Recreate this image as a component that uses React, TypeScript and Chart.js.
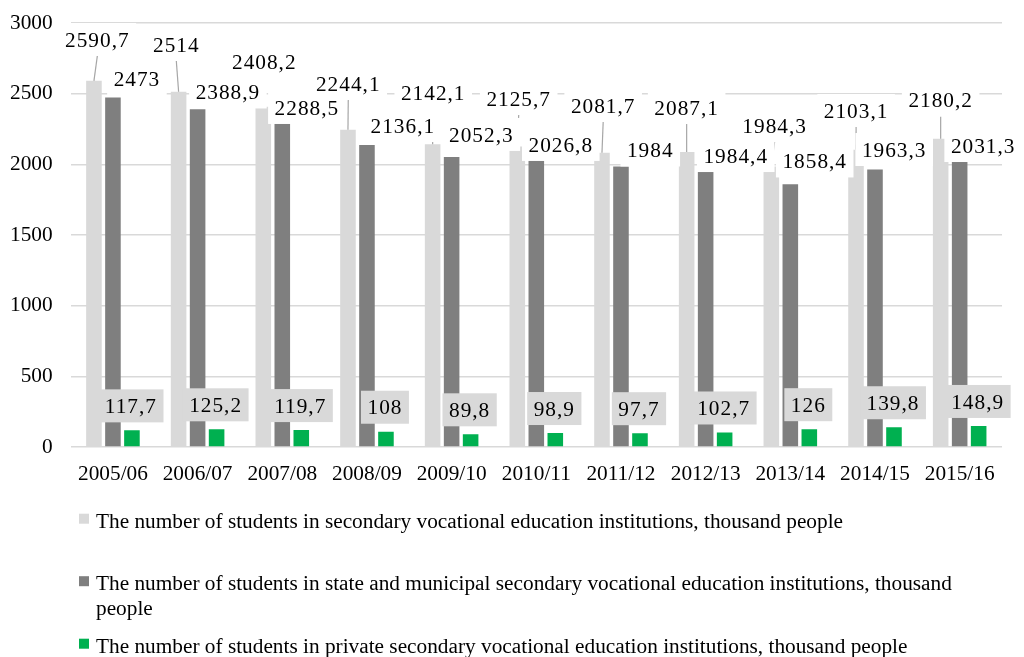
import React, { useEffect, useRef } from 'react';
import { Chart, registerables } from 'chart.js';

Chart.register(...registerables);

// Academic years on the category axis
const categories = [
  '2005/06', '2006/07', '2007/08', '2008/09', '2009/10', '2010/11',
  '2011/12', '2012/13', '2013/14', '2014/15', '2015/16',
];

// Students, thousand people
const totalStudents = [2590.7, 2514, 2408.2, 2244.1, 2142.1, 2125.7, 2081.7, 2087.1, 1984.3, 2103.1, 2180.2];
const stateStudents = [2473, 2388.9, 2288.5, 2136.1, 2052.3, 2026.8, 1984, 1984.4, 1858.4, 1963.3, 2031.3];
const privateStudents = [117.7, 125.2, 119.7, 108, 89.8, 98.9, 97.7, 102.7, 126, 139.8, 148.9];

const seriesNames = [
  'The number of students in secondary vocational education institutions, thousand people',
  'The number of students in state and municipal secondary vocational education institutions, thousand people',
  'The number of students in private secondary vocational education institutions, thousand people',
];

const yTickValues = [0, 500, 1000, 1500, 2000, 2500, 3000];

// Hand-placed data label offsets (px) from the top centre of each bar
const totalLabelOffsets: [number, number][] = [
  [3.4, -41.4], [-2.3, -47.2], [1, -45.1], [0.3, -46.3], [0.6, -51.3], [1.4, -48.1],
  [1.2, -47.3], [0, -44.5], [3.3, -41.1], [0.1, -39.3], [0, -38.9],
];
const totalLeaderLines = [true, true, false, true, true, true, true, true, true, true, true];
const stateLabelOffsets: [number, number][] = [
  [24, -18.5], [30.3, -17.4], [24.6, -16.1], [35.9, -19.6], [29.7, -22.5], [24.5, -16.1],
  [29.3, -16.6], [30.1, -11], [24.4, -23.4], [19.2, -20], [23.5, -14.4],
];
const privateLabelOffset: [number, number] = [-1, -24.5];

const COLORS = ['#d9d9d9', '#7f7f7f', '#00b050'];
const FONT_FAMILY = '"Liberation Serif", "Times New Roman", serif';
const FONT_SIZE = 21.3;

const fmt = (v: number) => String(v).replace('.', ',');

const dataLabelPlugin = {
  id: 'dataLabels',
  afterDatasetsDraw(chart: any) {
    const ctx: CanvasRenderingContext2D = chart.ctx;
    const series = [
      { values: totalStudents, meta: chart.getDatasetMeta(0), offsets: totalLabelOffsets, fill: '#ffffff' },
      { values: stateStudents, meta: chart.getDatasetMeta(1), offsets: stateLabelOffsets, fill: '#ffffff' },
      { values: privateStudents, meta: chart.getDatasetMeta(2), offsets: null, fill: '#d9d9d9' },
    ];
    const boxH = 33;
    const padX = 6.5;
    ctx.save();
    // leader lines of the first series
    ctx.strokeStyle = '#a6a6a6';
    ctx.lineWidth = 1.2;
    series[0].meta.data.forEach((bar: any, i: number) => {
      if (!totalLeaderLines[i]) return;
      const [dx, dy] = totalLabelOffsets[i];
      const lx = bar.x + dx;
      const ly = bar.y + dy;
      ctx.beginPath();
      ctx.moveTo(lx, ly + boxH / 2);
      ctx.lineTo(bar.x, bar.y);
      ctx.stroke();
    });
    ctx.font = `${FONT_SIZE}px ${FONT_FAMILY}`;
    (ctx as any).letterSpacing = '1px';
    ctx.textAlign = 'center';
    ctx.textBaseline = 'alphabetic';
    series.forEach((s) => {
      s.meta.data.forEach((bar: any, i: number) => {
        const [dx, dy] = s.offsets ? s.offsets[i] : privateLabelOffset;
        const lx = bar.x + dx;
        const ly = bar.y + dy;
        const text = fmt(s.values[i]);
        const w = ctx.measureText(text).width;
        ctx.fillStyle = s.fill;
        ctx.fillRect(lx - w / 2 - padX, ly - boxH / 2, w + padX * 2, boxH);
        ctx.fillStyle = '#000';
        ctx.fillText(text, lx, ly + FONT_SIZE * 0.338);
      });
    });
    ctx.restore();
  },
};

const legendPlugin = {
  id: 'stackedLegend',
  afterDraw(chart: any) {
    const ctx: CanvasRenderingContext2D = chart.ctx;
    const textX = 96;
    const maxWidth = 870;
    const firstBaseline = 527.7;
    const rowStep = 62.5;
    const lineStep = 25;
    ctx.save();
    ctx.font = `${FONT_SIZE}px ${FONT_FAMILY}`;
    ctx.textAlign = 'left';
    ctx.textBaseline = 'alphabetic';
    seriesNames.forEach((name, idx) => {
      const base = firstBaseline + idx * rowStep;
      ctx.fillStyle = COLORS[idx];
      ctx.fillRect(79, base - 14, 10, 10);
      // wrap words into lines
      const words = name.split(' ');
      const lines: string[] = [];
      let cur = '';
      words.forEach((w) => {
        const test = cur ? cur + ' ' + w : w;
        if (ctx.measureText(test).width > maxWidth && cur) {
          lines.push(cur);
          cur = w;
        } else {
          cur = test;
        }
      });
      if (cur) lines.push(cur);
      ctx.fillStyle = '#000';
      lines.forEach((ln, li) => ctx.fillText(ln, textX, base + li * lineStep));
    });
    ctx.restore();
  },
};

export default function App() {
  const canvasRef = useRef<HTMLCanvasElement>(null);

  useEffect(() => {
    if (!canvasRef.current) return;
    const tickFont = { family: FONT_FAMILY, size: FONT_SIZE };
    const chart = new Chart(canvasRef.current, {
      type: 'bar',
      data: {
        labels: categories,
        datasets: [
          { label: seriesNames[0], data: totalStudents, backgroundColor: COLORS[0] },
          { label: seriesNames[1], data: stateStudents, backgroundColor: COLORS[1] },
          { label: seriesNames[2], data: privateStudents, backgroundColor: COLORS[2] },
        ],
      },
      options: {
        responsive: false,
        animation: false,
        datasets: { bar: { categoryPercentage: 0.673, barPercentage: 0.82 } },
        layout: { padding: { left: 0, right: 22, top: 23, bottom: 170 } },
        plugins: {
          legend: { display: false },
          tooltip: { enabled: false },
        },
        scales: {
          x: {
            grid: { display: false, drawTicks: false },
            border: { display: false },
            ticks: { font: tickFont, color: '#000', padding: 15, maxRotation: 0, autoSkip: false },
            afterFit: (scale: any) => { scale.height = 40; },
          },
          y: {
            min: 0,
            max: 3000,
            afterBuildTicks: (scale: any) => { scale.ticks = yTickValues.map((v) => ({ value: v })); },
            // invisible tick marks keep the labels clear of the plot without extra top padding
            grid: { color: '#d9d9d9', lineWidth: 1.5, drawTicks: true, tickLength: 18, tickColor: 'rgba(0,0,0,0)' },
            border: { display: false },
            ticks: { font: tickFont, color: '#000', padding: 0, callback: (v: any) => String(v) },
            afterFit: (scale: any) => { scale.width = 70.6; },
          },
        },
      } as any,
      plugins: [dataLabelPlugin, legendPlugin],
    });
    return () => chart.destroy();
  }, []);

  return (
    <div style={{ position: 'fixed', left: 0, top: 0, width: 1024, height: 657, background: '#fff' }}>
      <canvas ref={canvasRef} width={1024} height={657} style={{ display: 'block' }} />
    </div>
  );
}
